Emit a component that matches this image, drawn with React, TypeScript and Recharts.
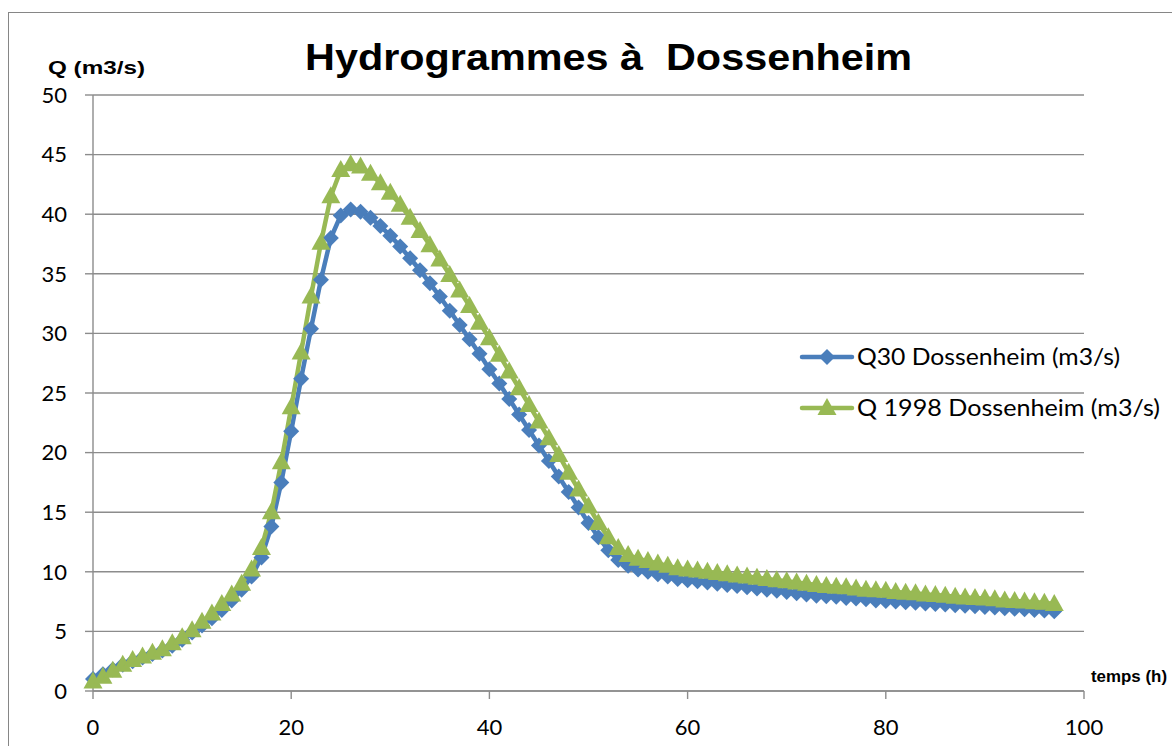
import React from "react";
import { LineChart, Line, XAxis, YAxis, CartesianGrid } from "recharts";

const hours = [
  0, 1, 2, 3, 4, 5, 6, 7, 8, 9, 10, 11, 12, 13, 14, 15, 16, 17, 18, 19,
  20, 21, 22, 23, 24, 25, 26, 27, 28, 29, 30, 31, 32, 33, 34, 35, 36, 37, 38, 39,
  40, 41, 42, 43, 44, 45, 46, 47, 48, 49, 50, 51, 52, 53, 54, 55, 56, 57, 58, 59,
  60, 61, 62, 63, 64, 65, 66, 67, 68, 69, 70, 71, 72, 73, 74, 75, 76, 77, 78, 79,
  80, 81, 82, 83, 84, 85, 86, 87, 88, 89, 90, 91, 92, 93, 94, 95, 96, 97,
];

const q30 = [
  1.0, 1.4, 1.8, 2.2, 2.5, 2.8, 3.1, 3.4, 3.8, 4.3, 4.9, 5.5, 6.1, 6.8, 7.6, 8.5, 9.6, 11.2, 13.8, 17.5,
  21.8, 26.2, 30.4, 34.5, 38.0, 39.9, 40.4, 40.2, 39.7, 39.0, 38.2, 37.3, 36.3, 35.3, 34.2, 33.1, 31.9, 30.7, 29.5, 28.3,
  27.0, 25.8, 24.5, 23.2, 21.9, 20.6, 19.3, 18.0, 16.7, 15.4, 14.1, 12.9, 11.8, 11.0, 10.5, 10.2, 10.0, 9.8, 9.6, 9.4,
  9.3, 9.2, 9.1, 9.0, 8.9, 8.8, 8.7, 8.6, 8.5, 8.4, 8.3, 8.2, 8.1, 8.0, 7.95, 7.9, 7.8, 7.75, 7.7, 7.6,
  7.55, 7.5, 7.45, 7.4, 7.35, 7.3, 7.25, 7.2, 7.15, 7.1, 7.05, 7.0, 6.95, 6.9, 6.85, 6.8, 6.75, 6.7,
];

const q1998 = [
  0.8, 1.2, 1.7, 2.2, 2.6, 2.9, 3.2, 3.5, 4.0, 4.5, 5.1, 5.8, 6.5, 7.3, 8.1, 9.0, 10.2, 12.0, 15.0, 19.2,
  23.8, 28.4, 33.1, 37.6, 41.5, 43.7, 44.2, 44.0, 43.4, 42.6, 41.8, 40.8, 39.7, 38.6, 37.4, 36.2, 34.9, 33.6, 32.3, 30.9,
  29.6, 28.2, 26.8, 25.4, 24.0, 22.6, 21.2, 19.8, 18.3, 16.9, 15.5, 14.1, 12.9, 12.0, 11.4, 11.1, 10.9, 10.7, 10.5, 10.3,
  10.2, 10.1, 10.0, 9.9, 9.8, 9.7, 9.6, 9.5, 9.4, 9.3, 9.2, 9.1, 9.0, 8.9, 8.8, 8.75, 8.7, 8.6, 8.5, 8.45,
  8.4, 8.3, 8.25, 8.2, 8.1, 8.05, 8.0, 7.9, 7.85, 7.8, 7.75, 7.7, 7.6, 7.55, 7.5, 7.45, 7.4, 7.3,
];

const xTicks = [0, 20, 40, 60, 80, 100];
const yTicks = [0, 5, 10, 15, 20, 25, 30, 35, 40, 45, 50];

const seriesNames = ["Q30 Dossenheim (m3/s)", "Q 1998 Dossenheim (m3/s)"];

const BLUE = "#4a7ebb";
const GREEN = "#98b954";
const GRID = "#8c8c8c";
const FONT = "Lato, 'Liberation Sans', sans-serif";
const BOLD = "'Liberation Sans', Arial, sans-serif";

const data = hours.map((h, i) => ({ t: h, q30: q30[i], q1998: q1998[i] }));

const Diamond = (props: any) => {
  const { cx, cy } = props;
  if (cx == null || cy == null) return null;
  return (
    <path
      d={`M${cx},${cy - 8} L${cx + 8},${cy} L${cx},${cy + 8} L${cx - 8},${cy} Z`}
      fill={BLUE}
    />
  );
};

const Triangle = (props: any) => {
  const { cx, cy } = props;
  if (cx == null || cy == null) return null;
  return (
    <path
      d={`M${cx},${cy - 10} L${cx + 9.5},${cy + 7} L${cx - 9.5},${cy + 7} Z`}
      fill={GREEN}
    />
  );
};

export default function App() {
  return (
    <div style={{ position: "absolute", left: 0, top: 0, width: 1172, height: 746, background: "#fff", overflow: "hidden" }}>
      <div
        style={{
          position: "absolute",
          left: 8,
          top: 12,
          width: 1300,
          height: 900,
          border: "1.5px solid #868686",
        }}
      />
      <LineChart
        width={1172}
        height={746}
        data={data}
        margin={{ top: 95, right: 88, bottom: 0, left: 0 }}
        style={{ position: "absolute", left: 0, top: 0 }}
      >
        <CartesianGrid horizontal vertical={false} stroke={GRID} strokeWidth={1.4} />
        <XAxis
          dataKey="t"
          type="number"
          domain={[0, 100]}
          ticks={xTicks}
          height={55}
          stroke={GRID}
          strokeWidth={1.4}
          tickSize={8}
          tickMargin={20}
          tick={{ fill: "#000", fontSize: 22, fontFamily: FONT }}
        />
        <YAxis
          type="number"
          domain={[0, 50]}
          ticks={yTicks}
          width={93}
          stroke={GRID}
          strokeWidth={1.4}
          tickSize={8}
          tickMargin={18}
          tick={{ fill: "#000", fontSize: 22, fontFamily: FONT }}
        />
        <Line
          name={seriesNames[0]}
          dataKey="q30"
          stroke={BLUE}
          strokeWidth={4.5}
          dot={<Diamond />}
          isAnimationActive={false}
        />
        <Line
          name={seriesNames[1]}
          dataKey="q1998"
          stroke={GREEN}
          strokeWidth={4.5}
          dot={<Triangle />}
          isAnimationActive={false}
        />
      </LineChart>
      <svg style={{ position: "absolute", left: 0, top: 0 }} width={1172} height={746}>
        <text x={305} y={70} fontFamily={BOLD} fontWeight="bold" fontSize={37}
          textLength={607} lengthAdjust="spacingAndGlyphs" fill="#000" style={{ whiteSpace: "pre" }}>
          {"Hydrogrammes à  Dossenheim"}
        </text>
        <text x={48} y={74} fontFamily={BOLD} fontWeight="bold" fontSize={19}
          textLength={97} lengthAdjust="spacingAndGlyphs" fill="#000">
          Q (m3/s)
        </text>
        <text x={1091} y={682} fontFamily={BOLD} fontWeight="bold" fontSize={17}
          textLength={76} lengthAdjust="spacingAndGlyphs" fill="#000">
          temps (h)
        </text>
        <g>
          <line x1={802} y1={357} x2={852} y2={357} stroke={BLUE} strokeWidth={4.5} strokeLinecap="round" />
          <path d="M827,349 L835,357 L827,365 L819,357 Z" fill={BLUE} />
          <text x={857} y={365} fontFamily={FONT} fontSize={23} textLength={263}
            lengthAdjust="spacingAndGlyphs" fill="#000">
            {seriesNames[0]}
          </text>
        </g>
        <g>
          <line x1={802} y1={408} x2={852} y2={408} stroke={GREEN} strokeWidth={4.5} strokeLinecap="round" />
          <path d="M827,398 L836.5,415 L817.5,415 Z" fill={GREEN} />
          <text x={857} y={416} fontFamily={FONT} fontSize={23} textLength={303}
            lengthAdjust="spacingAndGlyphs" fill="#000">
            {seriesNames[1]}
          </text>
        </g>
      </svg>
    </div>
  );
}
